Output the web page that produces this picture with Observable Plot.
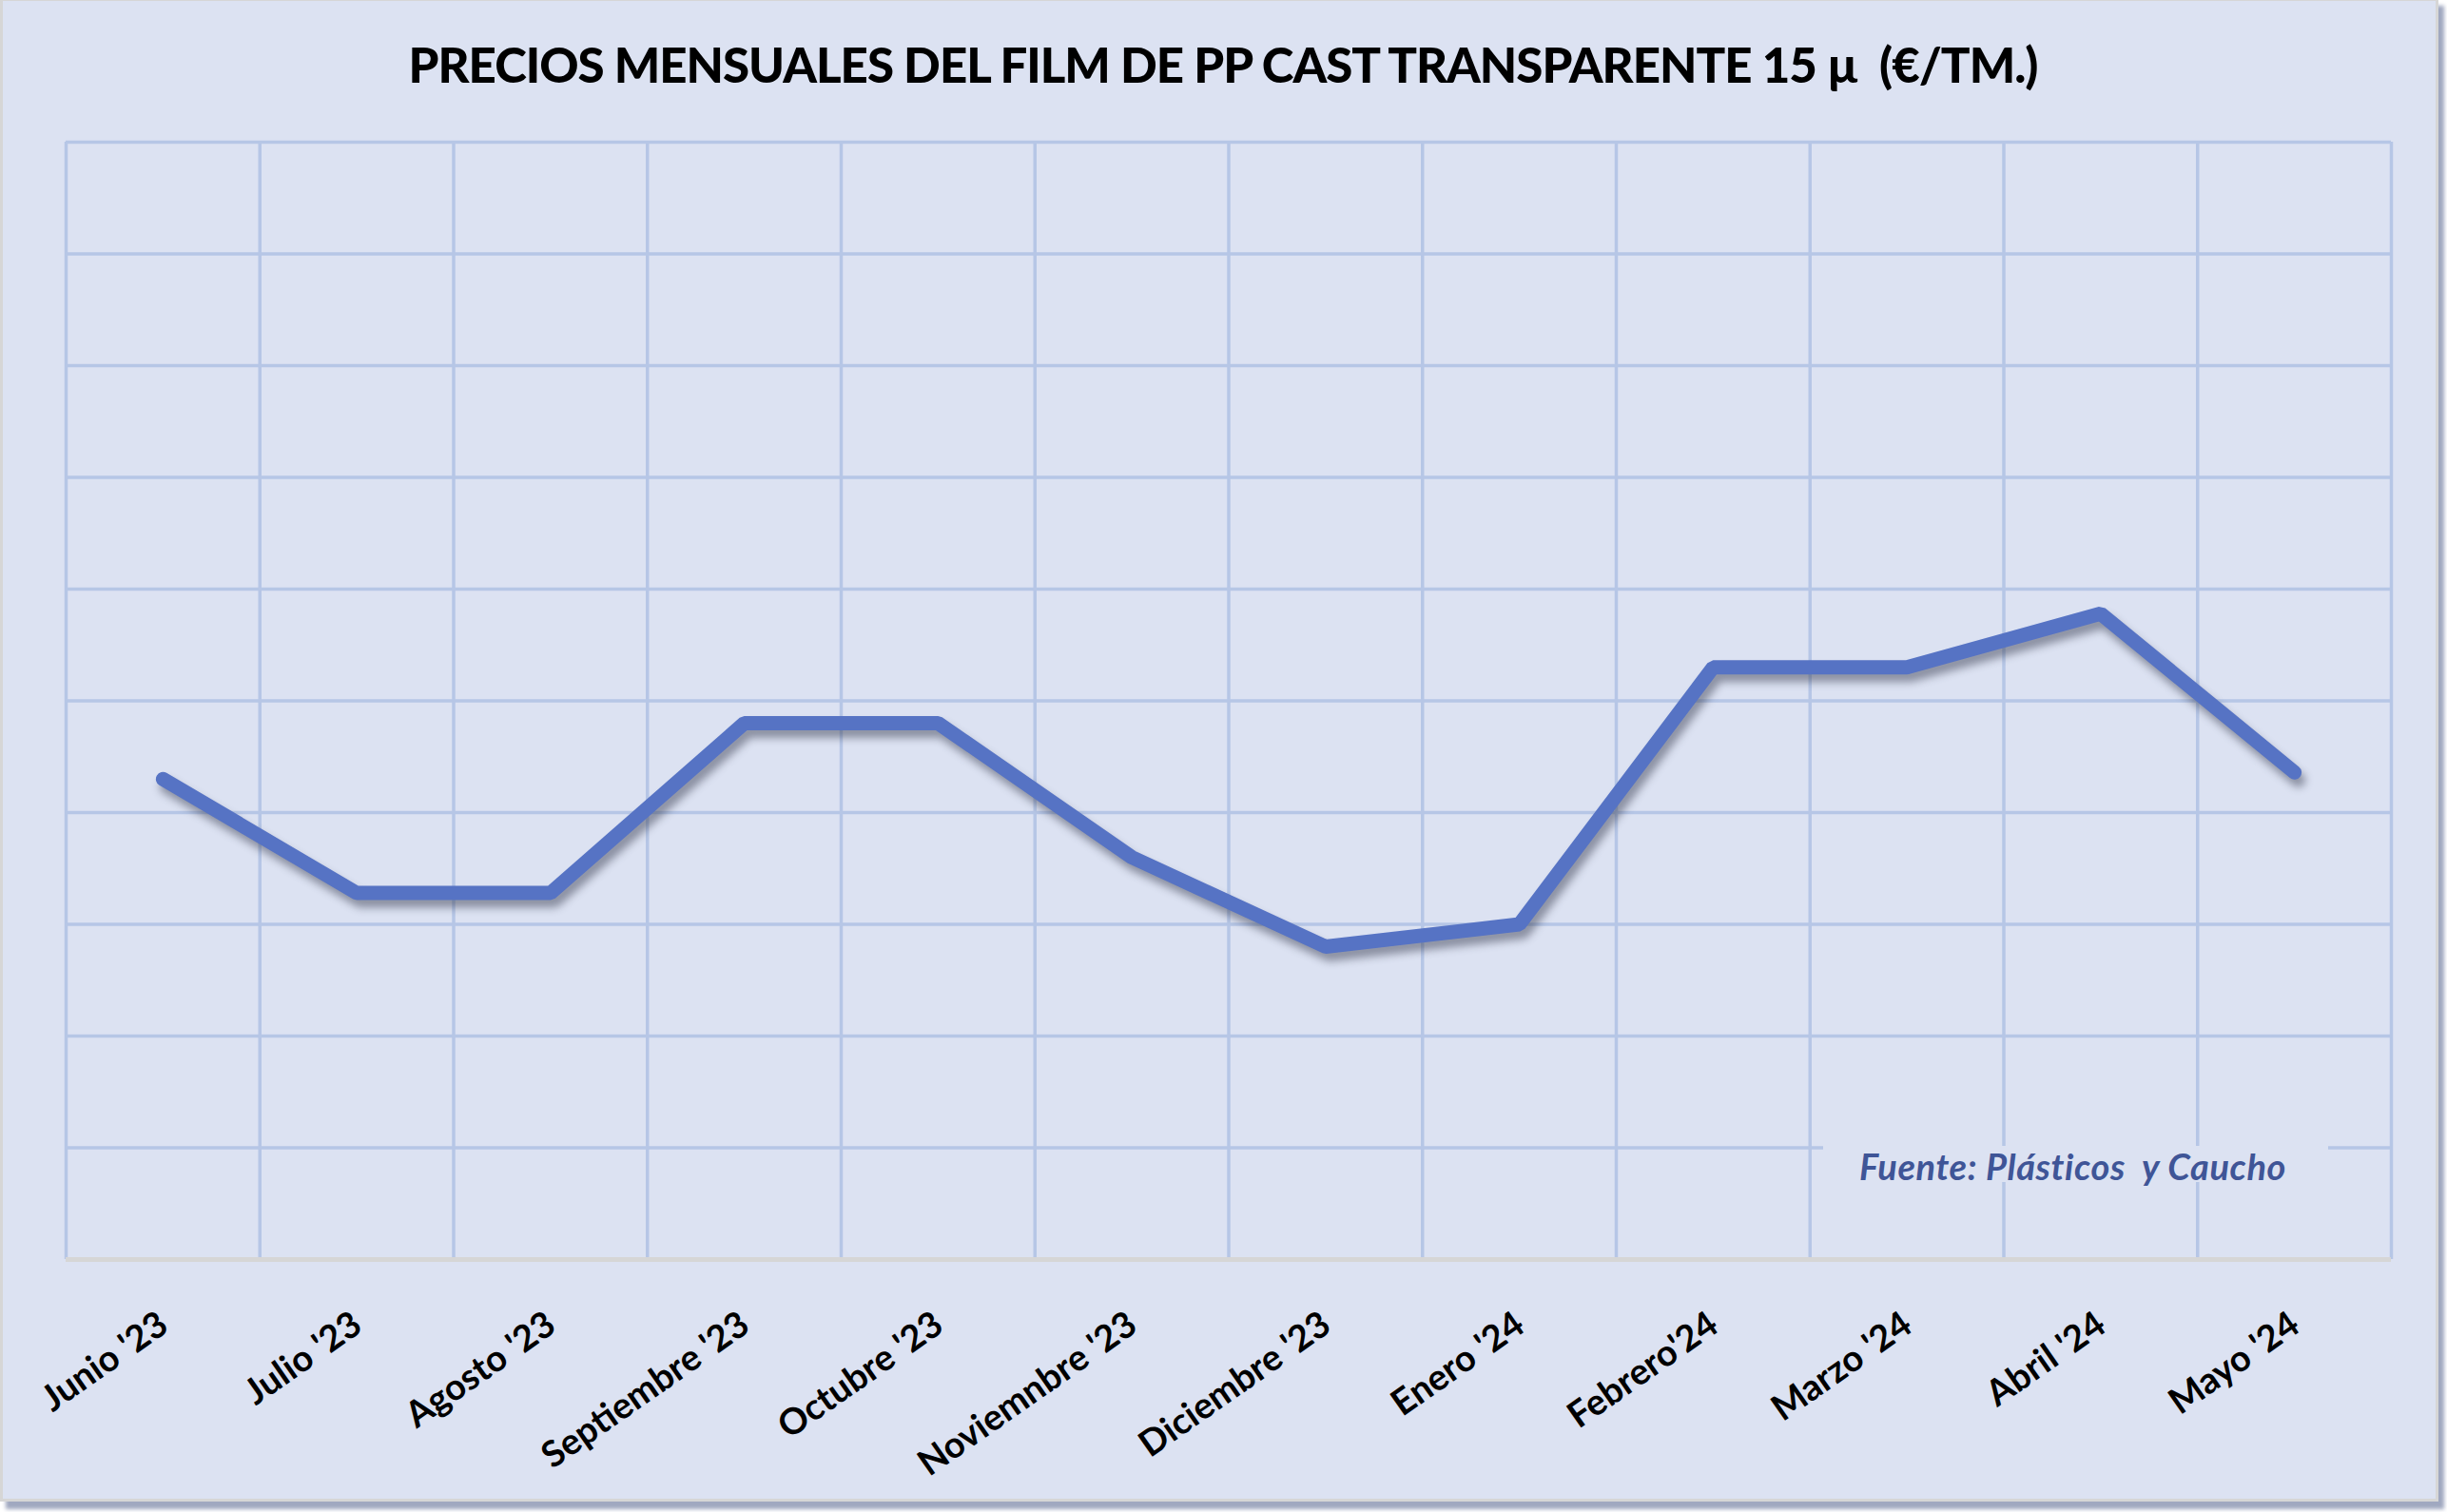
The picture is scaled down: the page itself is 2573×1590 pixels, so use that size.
<!DOCTYPE html>
<html><head><meta charset="utf-8">
<script src="https://cdn.jsdelivr.net/npm/d3@7"></script>
<script src="https://cdn.jsdelivr.net/npm/@observablehq/plot@0.6"></script>
<style>
html,body{margin:0;padding:0;background:#ffffff;}
#frame{position:absolute;left:0;top:-2px;width:2558px;height:1575px;border:3px solid #d6d6d6;background:#dce2f2;box-shadow:6px 8px 4px rgba(150,158,185,0.9);overflow:hidden;}
#chart{position:absolute;left:0;top:0;}
#title{position:absolute;left:4px;top:41px;width:100%;text-align:center;font-family:Lato,"Open Sans",sans-serif;font-weight:900;font-size:51px;line-height:1;letter-spacing:-1px;color:#000;white-space:pre;}
#srcbox{position:absolute;left:1914px;top:1204px;width:531px;height:38px;background:#dce2f2;}
#source{position:absolute;left:1952px;top:1206px;font-family:Lato,"Open Sans",sans-serif;font-weight:bold;font-style:italic;font-size:38px;letter-spacing:0.6px;line-height:1;color:#3f5597;white-space:pre;}
</style></head><body>
<div id="frame">
  <div id="chart"></div>
  <div id="title">PRECIOS MENSUALES DEL FILM DE PP CAST TRANSPARENTE 15 µ  (€/TM.)</div>
  <div id="srcbox"></div>
  <div id="source">Fuente: Plásticos  y Caucho</div>
</div>
<script>
const months = ["Junio '23","Julio '23","Agosto '23","Septiembre '23","Octubre '23","Noviemnbre '23","Diciembre '23","Enero '24","Febrero'24","Marzo '24","Abril '24","Mayo '24"];
const prices = [1915, 1864, 1864, 1940, 1940, 1880, 1840, 1850, 1965, 1965, 1989, 1918];
const yTicks = [1700, 1750, 1800, 1850, 1900, 1950, 2000, 2050, 2100, 2150, 2200];

const data = months.map((m, i) => ({month: m, idx: i + 0.5, price: prices[i]}));
const xEdges = d3.range(months.length + 1);

const svg = Plot.plot({
  width: 2558,
  height: 1575,
  marginLeft: 66,
  marginRight: 47,
  marginTop: 148,
  marginBottom: 252,
  x: {domain: [0, months.length], axis: null},
  y: {domain: [yTicks[0], yTicks[yTicks.length - 1]], axis: null},
  style: {background: "transparent", overflow: "visible", fontFamily: "Lato, 'Open Sans', sans-serif"},
  marks: [
    Plot.ruleY(yTicks.slice(1), {stroke: "#b6c6e6", strokeWidth: 3.5}),
    Plot.ruleX(xEdges, {stroke: "#b6c6e6", strokeWidth: 3.5}),
    Plot.ruleY([yTicks[0]], {stroke: "#d6d6d6", strokeWidth: 5}),
    Plot.line(data, {x: "idx", y: "price", stroke: "#5673c4", strokeWidth: 15, strokeLinejoin: "miter", strokeLinecap: "round"}),
    Plot.text(data, {x: "idx", text: "month", frameAnchor: "bottom", dy: 74, dx: 8, rotate: -35, textAnchor: "end", lineAnchor: "bottom", fontSize: 38, fontWeight: "bold", fill: "#000"})
  ]
});
const lineG = svg.querySelector('g[aria-label="line"]');
if (lineG) lineG.setAttribute("style", "filter: drop-shadow(4px 8px 4px rgba(40,45,65,0.45))");
document.getElementById("chart").appendChild(svg);
</script>
</body></html>
